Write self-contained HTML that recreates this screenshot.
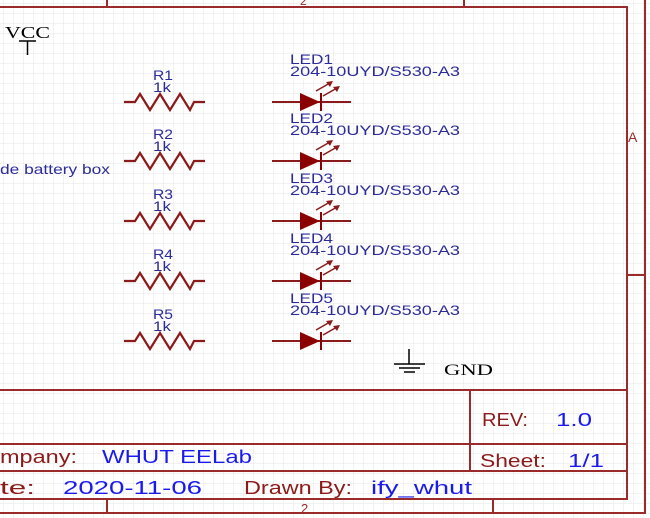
<!DOCTYPE html>
<html><head><meta charset="utf-8"><style>
html,body{margin:0;padding:0;background:#fff;}
body{width:650px;height:518px;overflow:hidden;position:relative;}
svg{position:absolute;left:0;top:0;}
.b{font-family:"Liberation Sans",sans-serif;fill:#2b2b9a;}
.t{font-family:"Liberation Sans",sans-serif;font-size:18px;}
</style></head><body>
<svg width="650" height="518" viewBox="0 0 650 518">
<defs>
<pattern id="g" width="10" height="10" patternUnits="userSpaceOnUse" x="4" y="4">
<path d="M10 0V10M0 10H10" stroke="#e6e6e6" stroke-width="1" fill="none"/>
</pattern>
<g id="res"><path d="M124 0H135L140 -8L150 8L160 -8L170 8L180 -8L190 8L194 0H205" stroke="#8b1a1a" stroke-width="2.2" fill="none"/></g>
<g id="led">
<path d="M272 0H351" stroke="#8b1a1a" stroke-width="2"/>
<path d="M300 -9L320 0L300 9Z" fill="#8b0000"/>
<path d="M321 -9V9" stroke="#8b0000" stroke-width="2"/>
<path d="M316 -11L330 -19M323 -6L337 -14" stroke="#8b1a1a" stroke-width="1.5"/>
<path d="M333 -21L326 -20L330 -15Z M340 -16L333 -15L337 -10Z" fill="#8b1a1a"/>
</g>
</defs>
<rect width="650" height="518" fill="url(#g)"/>
<g stroke="#9b2a2a" stroke-width="2" fill="none">
<path d="M0 7H627V499H0"/>
<path d="M645 0V513H0"/>
<path d="M107 0V7M464 0V7M627 275H645"/>
<path d="M0 390H627M0 444H627M0 471H627M470 390V471"/>
<path d="M107 499V513M493 499V513"/>
</g>
<text x="300" y="5" font-family="Liberation Sans" font-size="12" fill="#9b2a2a">2</text>
<text x="301" y="513" font-family="Liberation Sans" font-size="13" fill="#9b2a2a">2</text>
<text x="628" y="142" font-family="Liberation Sans" font-size="14" fill="#9b2a2a">A</text>
<text x="5" y="38" font-family="Liberation Serif" font-size="17" textLength="45" lengthAdjust="spacingAndGlyphs">VCC</text>
<path d="M19 41H36M27.5 41V55" stroke="#000" stroke-width="1.5"/>
<text x="0" y="174" class="b" font-size="14" textLength="110" lengthAdjust="spacingAndGlyphs">de battery box</text>
<g class="b" font-size="14">
<text x="153" y="80" textLength="20" lengthAdjust="spacingAndGlyphs">R1</text><text x="153" y="92" textLength="18" lengthAdjust="spacingAndGlyphs">1k</text>
<text x="153" y="139" textLength="20" lengthAdjust="spacingAndGlyphs">R2</text><text x="153" y="151" textLength="18" lengthAdjust="spacingAndGlyphs">1k</text>
<text x="153" y="199" textLength="20" lengthAdjust="spacingAndGlyphs">R3</text><text x="153" y="211" textLength="18" lengthAdjust="spacingAndGlyphs">1k</text>
<text x="153" y="259" textLength="20" lengthAdjust="spacingAndGlyphs">R4</text><text x="153" y="271" textLength="18" lengthAdjust="spacingAndGlyphs">1k</text>
<text x="153" y="319" textLength="20" lengthAdjust="spacingAndGlyphs">R5</text><text x="153" y="331" textLength="18" lengthAdjust="spacingAndGlyphs">1k</text>
</g>
<g class="b" font-size="14">
<text x="290" y="64" textLength="43" lengthAdjust="spacingAndGlyphs">LED1</text><text x="290" y="76" textLength="170" lengthAdjust="spacingAndGlyphs">204-10UYD/S530-A3</text>
<text x="290" y="123" textLength="43" lengthAdjust="spacingAndGlyphs">LED2</text><text x="290" y="135" textLength="170" lengthAdjust="spacingAndGlyphs">204-10UYD/S530-A3</text>
<text x="290" y="183" textLength="43" lengthAdjust="spacingAndGlyphs">LED3</text><text x="290" y="195" textLength="170" lengthAdjust="spacingAndGlyphs">204-10UYD/S530-A3</text>
<text x="290" y="243" textLength="43" lengthAdjust="spacingAndGlyphs">LED4</text><text x="290" y="255" textLength="170" lengthAdjust="spacingAndGlyphs">204-10UYD/S530-A3</text>
<text x="290" y="303" textLength="43" lengthAdjust="spacingAndGlyphs">LED5</text><text x="290" y="315" textLength="170" lengthAdjust="spacingAndGlyphs">204-10UYD/S530-A3</text>
</g>
<use href="#res" y="102"/><use href="#res" y="161"/><use href="#res" y="221"/><use href="#res" y="281"/><use href="#res" y="341"/>
<use href="#led" y="102"/><use href="#led" y="161"/><use href="#led" y="221"/><use href="#led" y="281"/><use href="#led" y="341"/>
<path d="M409 349V364M394 364H425M399 368H420M404 372H415" stroke="#000" stroke-width="1.5"/>
<text x="444" y="375" font-family="Liberation Serif" font-size="16" textLength="49" lengthAdjust="spacingAndGlyphs">GND</text>
<text x="482" y="426" class="t" fill="#8b1a1a" textLength="46" lengthAdjust="spacingAndGlyphs">REV:</text>
<text x="556" y="426" class="t" fill="#1a1aee" textLength="36" lengthAdjust="spacingAndGlyphs">1.0</text>
<text x="480" y="467" class="t" fill="#8b1a1a" textLength="66" lengthAdjust="spacingAndGlyphs">Sheet:</text>
<text x="568" y="467" class="t" fill="#1a1aee" textLength="36" lengthAdjust="spacingAndGlyphs">1/1</text>
<text x="0" y="463" class="t" fill="#8b1a1a" textLength="77" lengthAdjust="spacingAndGlyphs">mpany:</text>
<text x="102" y="463" class="t" fill="#1a1aee" textLength="150" lengthAdjust="spacingAndGlyphs">WHUT EELab</text>
<text x="0" y="494" class="t" fill="#8b1a1a" textLength="35" lengthAdjust="spacingAndGlyphs">te:</text>
<text x="63" y="494" class="t" fill="#1a1aee" textLength="139" lengthAdjust="spacingAndGlyphs">2020-11-06</text>
<text x="244" y="494" class="t" fill="#8b1a1a" textLength="108" lengthAdjust="spacingAndGlyphs">Drawn By:</text>
<text x="371" y="494" class="t" fill="#1a1aee" textLength="101" lengthAdjust="spacingAndGlyphs">ify_whut</text>
</svg>
</body></html>
